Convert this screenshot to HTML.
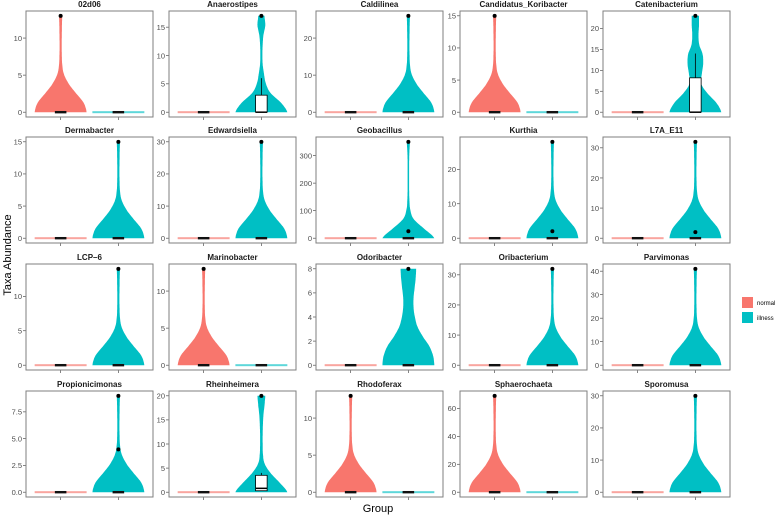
<!DOCTYPE html>
<html><head><meta charset="utf-8"><style>
body{margin:0;background:#fff;}
svg{display:block;font-family:"Liberation Sans",sans-serif;}
</style></head><body>
<svg id="chart" width="777" height="516" viewBox="0 0 777 516" xmlns="http://www.w3.org/2000/svg"></svg>
<script>
const taxa=["02d06","Anaerostipes","Caldilinea","Candidatus_Koribacter","Catenibacterium","Dermabacter","Edwardsiella","Geobacillus","Kurthia","L7A_E11","LCP\u20136","Marinobacter","Odoribacter","Oribacterium","Parvimonas","Propionicimonas","Rheinheimera","Rhodoferax","Sphaerochaeta","Sporomusa"];
const groups=["normal","illness"];
const nonzeroGroup=[0,1,1,0,1,1,1,1,1,1,1,0,1,1,1,1,1,0,0,1];
const maxValues=[13,17,26,15,23,15,30,350,28,32,14,13,8,32,41,9,20,13,69,30];
const yTicks=[[0,5,10],[0,5,10,15],[0,10,20],[0,5,10,15],[0,5,10,15,20],[0,5,10,15],[0,10,20,30],[0,100,200,300],[0,10,20],[0,10,20,30],[0,5,10],[0,5,10],[0,2,4,6,8],[0,10,20,30],[0,10,20,30,40],[0,2.5,5,7.5],[0,5,10,15,20],[0,5,10],[0,20,40,60],[0,10,20,30]];
const outliers=[[],[],[],[],[],[],[],[25],[2],[2],[],[],[],[],[],[4],[],[],[],[]];
// box stats: [q1, median, q3, whiskerTop] or null
const boxStats=[null,[0,0,3,6],null,null,[0,0,8.2,14],null,null,null,null,null,null,null,null,null,null,null,[0.3,0.8,3.5,4],null,null,null];
// relative violin half-width profiles at relative heights 0,0.1,...,1.0
const defaultProfile=[1,0.88,0.58,0.3,0.12,0.06,0.045,0.04,0.045,0.05,0.06];
const customProfiles={1:[1,0.75,0.35,0.17,0.1,0.05,0.04,0.05,0.08,0.15,0.12],4:[1,0.8,0.45,0.22,0.25,0.3,0.28,0.15,0.12,0.14,0.14],12:[1,0.95,0.8,0.55,0.35,0.25,0.2,0.2,0.24,0.28,0.3],16:[1,0.7,0.35,0.12,0.06,0.05,0.05,0.06,0.08,0.12,0.15],7:[1,0.6,0.2,0.07,0.04,0.03,0.03,0.03,0.03,0.04,0.06]};
const colors=["#F8766D","#00BFC4"];
const flatColors=["#F9A59F","#5ED7DA"];
const svg=document.getElementById('chart');
const NS="http://www.w3.org/2000/svg";
function mk(tag,attrs,parent){const e=document.createElementNS(NS,tag);for(const k in attrs)e.setAttribute(k,attrs[k]);(parent||svg).appendChild(e);return e;}
function cr(p,a,t){const n=p.length-1;const p0=p[Math.max(0,a-1)],p1=p[a],p2=p[Math.min(n,a+1)],p3=p[Math.min(n,a+2)];
  return 0.5*((2*p1)+(-p0+p2)*t+(2*p0-5*p1+4*p2-p3)*t*t+(-p0+3*p1-3*p2+p3)*t*t*t);}
const lefts=[26,169,316,460,603], tops=[11,137,264,391], PW=127, PH=106;
taxa.forEach((name,i)=>{
  const col=i%5,row=Math.floor(i/5);
  const L=lefts[col],T=tops[row];
  const g=mk('g',{});
  
  
  const max=maxValues[i];
  const ylo=-max*0.05,yhi=max*1.05;
  const y=v=>T+PH-(v-ylo)/(yhi-ylo)*PH;
  const x=p=>L+(p-0.4)/2.2*PW;
  const half=0.45/2.2*PW;
  const title=mk('text',{x:L+PW/2,y:T-4,'text-anchor':'middle','font-size':'8','font-weight':'bold',fill:'#1a1a1a'},g);
  title.textContent=name;
  
  
  yTicks[i].forEach(t=>{
    mk('line',{x1:L-3,x2:L,y1:y(t),y2:y(t),stroke:'#333','stroke-width':0.6},g);
    const tl=mk('text',{x:L-4,y:y(t)+2.8,'text-anchor':'end','font-size':'7.5',fill:'#4d4d4d'},g);
    tl.textContent=(max<10&&yTicks[i].some(v=>v%1))?t.toFixed(1):t;
    
    
  });
  [1,2].forEach(p=>mk('line',{x1:x(p),x2:x(p),y1:T+PH,y2:T+PH+3,stroke:'#333','stroke-width':0.6},g));
  groups.forEach((gr,gi)=>{
    const cx=x(gi+1);
    if(gi!==nonzeroGroup[i]){
      const f=mk('rect',{x:cx-half,y:y(0)-1,width:2*half,height:2,fill:flatColors[gi]},g);
      
      
    }else{
      const prof=customProfiles[i]||defaultProfile;
      let right=[],left=[];
      const N=100;
      for(let k=0;k<=N;k++){
        const r=k/N,pos=r*10,a=Math.min(9,Math.floor(pos)),fr=pos-a;
        const w=Math.max(0.02,Math.min(1,cr(prof,a,fr)));
        const yy=y(r*max);
        right.push((cx+w*half).toFixed(1)+','+yy.toFixed(1));
        left.unshift((cx-w*half).toFixed(1)+','+yy.toFixed(1));
      }
      const v=mk('path',{d:'M'+right.join('L')+'L'+left.join('L')+'Z',fill:colors[gi]},g);
      
      
      const pt=mk('circle',{cx:cx,cy:y(max),r:2,fill:'#000'},g);
      
      
      outliers[i].forEach(o=>{
        const op=mk('circle',{cx:cx,cy:y(o),r:2,fill:'#000'},g);
        
        
      });
    }
    const bw=0.1/2.2*PW;
    const b=(gi===nonzeroGroup[i])?boxStats[i]:null;
    if(b){
      mk('line',{x1:cx,x2:cx,y1:y(b[2]),y2:y(b[3]),stroke:'#000','stroke-width':0.8},g);
      const bx=mk('rect',{x:cx-bw,y:y(b[2]),width:2*bw,height:y(b[0])-y(b[2]),fill:'#fff',stroke:'#000','stroke-width':0.8},g);
      
      
      mk('line',{x1:cx-bw,x2:cx+bw,y1:y(b[1]),y2:y(b[1]),stroke:'#000','stroke-width':1.5},g);
    }else{
      const m=mk('rect',{x:cx-bw,y:y(0)-1.2,width:2*bw,height:2.4,fill:'#111'},g);
      
      
    }
  });
  mk('rect',{x:L,y:T,width:PW,height:PH,fill:'none',stroke:'#7f7f7f','stroke-width':1},g);
});
const yt=mk('text',{x:0,y:0,transform:'translate(11,255) rotate(-90)','text-anchor':'middle','font-size':'11',fill:'#000'});
yt.textContent='Taxa Abundance';


const xt=mk('text',{x:378,y:512,'text-anchor':'middle','font-size':'11',fill:'#000'});
xt.textContent='Group';


groups.forEach((gr,gi)=>{
  const lg=mk('g',{});
  
  
  mk('rect',{x:742,y:297+gi*15,width:11,height:11,fill:colors[gi]},lg);
  const t=mk('text',{x:757,y:305+gi*15,'font-size':'6',fill:'#000'},lg);
  t.textContent=gr;
});
</script>
</body></html>
